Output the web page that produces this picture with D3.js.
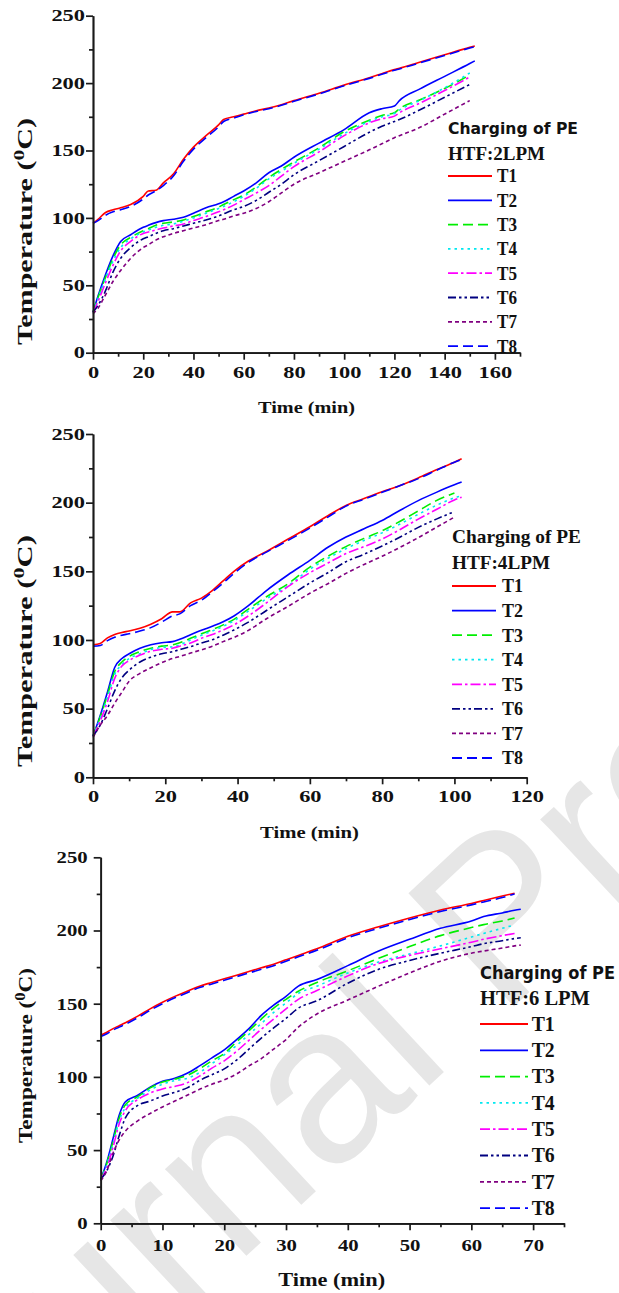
<!DOCTYPE html>
<html><head><meta charset="utf-8">
<script src="https://cdn.jsdelivr.net/npm/d3@7"></script>
<style>body{margin:0;background:#fff}svg{display:block}</style>
</head><body>
<svg id="chart" width="619" height="1293"></svg>
<script>
// ---------------- DATA ----------------
const seriesNames = ["T1","T2","T3","T4","T5","T6","T7","T8"];

// Panel 1 : HTF 2 LPM
const time2LPM = [0,2,5,8,11,15,20,22,25,28,32,36,40,45,50,52,56,60,65,70,75,80,90,100,110,115,120,122,130,140,150,152];
const T1_2LPM = [96,99,104,106,107.5,110,116,120,120.5,126,132.5,143.5,152.5,161,169,173,175,177,179.5,181.5,184,187,192.5,198.5,204,207,210,211,215.5,221,226.5,227.5];
const T2_2LPM = [30,42,58,72,82.5,87.5,93,94.5,96.5,98,99,100.5,103.5,107.5,110.5,112,116,120,126,133.5,138.5,145,155.5,165.5,178,181,183,187,195.5,205,214.5,216.5];
const T3_2LPM = [30,41,56,70,80,85.5,90.5,92,94.5,96,97,98.5,101,104.5,108,110,113.5,117,123,130,136,141.5,152,164,172.5,176,178,181,187.5,196,206,null];
const T4_2LPM = [30,40,55,68,78,84.5,89.5,91,93,94.5,95.5,97.5,100,103.5,107,108.5,112,116,122,129,134.5,140.5,151,162.5,171.5,175,177.5,180,187,196.5,207.5,null];
const T5_2LPM = [30,38,52,65,75.5,82.5,88.5,89.5,91,92.5,94,95.5,98,101,104.5,106,109.5,113.5,118.5,124,131,138,149,161,170.5,173.5,175.5,178,185,194.5,204.5,null];
const T6_2LPM = [30,35,46,60,70,78,84.5,86,88.5,90.5,92,94,96,98.5,101.5,103,106,108.5,113,119,125,132,142.5,153,163.5,168,171.5,173,180,189.5,199,null];
const T7_2LPM = [29,33,43,53,61,70,78,80,83.5,86,88.5,90.5,92.5,95,98,99,101.5,103.5,107,112,118.5,125,133.5,142,150.5,155,159.5,161,167,177,187,null];
const T8_2LPM = [96,98,102,104.5,106,108.5,114,117,120,124,131,142,151,159.5,167.5,171.5,174,176.5,179,181,183.5,186.5,192,198,203.5,206.5,209.5,210.5,215,220.5,226,227];

// Panel 2 : HTF 4 LPM
const time4LPM = [0,2,4,6,8,10,13,16,19,22,24,27,30,33,36,39,43,48,54,60,65,70,75,80,85,90,95,100,102];
const T1_4LPM = [96.5,97.5,101.5,104,105.5,106.5,108.5,111.5,115.5,120.5,120.5,127,130.5,136,143,150,157.5,164.5,173.5,182.5,190.5,198,203,208,212.5,218,224,229.5,232];
const T2_4LPM = [30,45,62,80,86.5,90,94,96.5,98,98.8,100.5,103.8,107,110,113.3,117.5,125,136,147.5,158,167.5,175,181,187,194.5,201.5,207.5,213,215];
const T3_4LPM = [30,44,60,77,84,88,91.5,94,95.5,96.4,98,101.2,104.5,107.5,111,115,122.5,131.5,141,153,161,168,174,179.5,186.5,194,201.5,207,null];
const T4_4LPM = [30,43,58,75,82,86.5,90,93,94.5,95,96.5,100,103.5,106.5,110,114,121,130,139.5,151.5,159.5,166.5,172.5,178,184.5,191.5,198,203.5,205];
const T5_4LPM = [30,41,55,72,81,85,89,91.8,93.2,94,95.5,97.8,101.2,104,107.3,111,117.5,127,139,149,156,163,168,173.5,180.5,188,195,202,204];
const T6_4LPM = [30,38,50,63,72.5,78,84,87.5,90,91.5,93,95.2,97.8,100.2,103.5,107.3,113,121.5,131.5,141.5,149,157,162.5,168.5,175,182,188,193.5,null];
const T7_4LPM = [29,38,45,54,62,70,75.7,79.8,83.5,86.5,88,90.5,92.8,95.5,98.8,101.8,107,115.5,124.5,134,141,148.5,155,161,167.5,174.5,182,189.5,null];
const T8_4LPM = [95.5,96,99.5,102,103.5,104.5,106.5,109,113,117.5,119,125,129,135,141.5,148.5,156.5,164,172.5,181.5,189.5,197.5,202.5,207.5,212.5,217.5,223.5,229.5,231.5];

// Panel 3 : HTF 6 LPM
const time6LPM = [0,1,2,3,4,6,8,10,12,14,16,18,20,22,24,26,28,30,32,35,40,45,50,55,60,62,65,67,68];
const T1_6LPM = [128.5,130.5,133,135,137,141.5,146.5,151,155,158.5,162,164.5,167,169.5,172,174.5,177,180,183,187.5,196,202.5,208.5,214,218.5,220.5,223.5,225.5,null];
const T2_6LPM = [30,42,58,74,83,87.5,93,97,99,102.5,107.5,113,118.5,125.5,133,142,149,155,162,166.5,176,186,194,201.5,206.5,209.5,212,213.8,214.5];
const T3_6LPM = [30,41,56,72,81,86.5,92.5,96.5,98.5,101,105.5,111,116,124,131.5,139.5,147,153,158.5,164.5,172.5,181,189,196.5,202,204,206.5,208.5,null];
const T4_6LPM = [30,40,54,70,79,85.5,91,95,97.5,99,103,109,115,121.5,129,136.5,144,150.5,157,162,171,178.5,184,189.5,195.5,198,201.5,203.8,null];
const T5_6LPM = [30,38,52,68,77,84.5,89,91.8,93.5,96,100.5,106,111,117.5,125,132.5,139.5,146.5,153,159,169,177.5,183,187.5,192,194,196.5,198,null];
const T6_6LPM = [30,36,46,60,72,80.5,83.5,87,89.5,92.5,97.5,101.5,105.5,111.5,119,126.5,133.5,140,147,152,164,173.5,179.5,184.5,189,191,193,194.5,195];
const T7_6LPM = [29,36,48,57,63,70,75,79.5,83.5,87.5,91.5,95,98,102,107.5,112.5,119,125.5,134,143,152.5,162,171,179,184.5,186,188,189.5,190];
const T8_6LPM = [127.5,129.5,132,134,136,140.5,145.5,150,154,157.5,161,163.5,166,168.5,171,173.5,176,179,182,186.5,195,201.5,207.5,213,217.5,219.5,222.5,225,null];

const headings = ["HTF:2LPM","HTF:4LPM","HTF:6 LPM"];
const xTickValues = [[0,20,40,60,80,100,120,140,160],[0,20,40,60,80,100,120],[0,10,20,30,40,50,60,70]];
const yTickValues = [0,50,100,150,200,250];

// ---------------- STYLE ----------------
const colors = ["#ff0000","#0000ff","#00ee00","#00e8f0","#ff00ff","#000080","#800080","#0000ff"];
const dashes = [null,null,"10,5","2.5,4","10,3,2.5,3","8,3,2.5,3,2.5,3","4,3","10,5"];
const SERIF = "'Liberation Serif','Times New Roman',serif";
const SANS = "'DejaVu Sans',Verdana,sans-serif";

const panels = [
  {time:time2LPM, data:[T1_2LPM,T2_2LPM,T3_2LPM,T4_2LPM,T5_2LPM,T6_2LPM,T7_2LPM,T8_2LPM], heading:headings[0],
   xMax:170, xTicks:xTickValues[0], xMinorStep:10, left:93, right:520, top:15.7, bottom:352.7,
   tickFont:16, tickStretch:1.4, yPad:1, xPad:6.5,
   yTitle:{cy:231.5, len:227, font:21}, xTitle:{cx:306.5, base:413, len:97, font:17.5},
   leg:{x:448, h1:{y:133.5, len:130, font:16, fam:SANS}, h2:{y:159.5, len:97, font:19}, row0:176, step:24.3, lineLen:44, tx:497, tLen:20, tFont:19}},
  {time:time4LPM, data:[T1_4LPM,T2_4LPM,T3_4LPM,T4_4LPM,T5_4LPM,T6_4LPM,T7_4LPM,T8_4LPM], heading:headings[1],
   xMax:120, xTicks:xTickValues[1], xMinorStep:10, left:93, right:526.7, top:434, bottom:777.3,
   tickFont:16, tickStretch:1.4, yPad:1, xPad:6.5,
   yTitle:{cy:651, len:232, font:21}, xTitle:{cx:309.5, base:838, len:99, font:17.5},
   leg:{x:452, h1:{y:543, len:129, font:19, fam:SERIF}, h2:{y:568.5, len:98, font:19}, row0:586, step:24.57, lineLen:44, tx:502, tLen:21, tFont:19}},
  {time:time6LPM, data:[T1_6LPM,T2_6LPM,T3_6LPM,T4_6LPM,T5_6LPM,T6_6LPM,T7_6LPM,T8_6LPM], heading:headings[2],
   xMax:75, xTicks:xTickValues[2], xMinorStep:5, left:100.7, right:564, top:857.3, bottom:1223.3,
   tickFont:17, tickStretch:1.22, yPad:6, xPad:8.5,
   yTitle:{cy:1055.5, len:175, font:19}, xTitle:{cx:331.7, base:1286, len:107, font:18.5},
   leg:{x:480, h1:{y:978.5, len:135, font:17, fam:SANS}, h2:{y:1004.5, len:110, font:20}, row0:1024, step:26.3, lineLen:48, tx:531.7, tLen:23, tFont:20}}
];

// ---------------- DRAW ----------------
const svg = d3.select("#chart");
svg.append("rect").attr("width",619).attr("height",1293).attr("fill","#fff");

// watermark
svg.append("text")
  .attr("transform","translate(-85,1565) rotate(-43)")
  .attr("font-family","'Liberation Sans',Arial,sans-serif")
  .attr("font-size",225)
  .attr("fill","#e6e6e6")
  .text("Journal Pre-proof");

function stretch(sel, f){
  sel.each(function(){
    const l = this.getComputedTextLength();
    this.setAttribute("textLength", (l*f).toFixed(2));
    this.setAttribute("lengthAdjust","spacingAndGlyphs");
  });
}
function fit(sel, w){
  sel.attr("textLength", w).attr("lengthAdjust","spacingAndGlyphs");
}

panels.forEach(p => {
  const g = svg.append("g");
  const x = d3.scaleLinear().domain([0,p.xMax]).range([p.left,p.right]);
  const y = d3.scaleLinear().domain([0,250]).range([p.bottom,p.top]);

  // lines
  const rows = p.time.map((t,i)=>({t,i}));
  p.data.forEach((vals, k) => {
    const line = d3.line()
      .defined(d => vals[d.i] != null)
      .x(d => x(d.t)).y(d => y(vals[d.i]))
      .curve(d3.curveMonotoneX);
    g.append("path").datum(rows)
      .attr("d", line)
      .attr("fill","none")
      .attr("stroke", colors[k])
      .attr("stroke-width", 1.6)
      .attr("stroke-dasharray", dashes[k])
      .attr("stroke-linejoin","round");
  });

  // minor ticks
  const yMinor = d3.range(25,250,50);
  const xMinor = d3.range(p.xMinorStep, p.xMax+0.001, p.xMinorStep*2);
  const ax = g.append("g").attr("transform",`translate(${p.left},0)`)
    .call(d3.axisLeft(y).tickValues(yMinor).tickSize(4).tickSizeOuter(0).tickFormat(""));
  const bx = g.append("g").attr("transform",`translate(0,${p.bottom})`)
    .call(d3.axisBottom(x).tickValues(xMinor).tickSize(4).tickSizeOuter(0).tickFormat(""));
  // major ticks
  const yAxis = g.append("g").attr("transform",`translate(${p.left},0)`)
    .call(d3.axisLeft(y).tickValues(yTickValues).tickSize(7).tickSizeOuter(0).tickPadding(p.yPad));
  const xAxis = g.append("g").attr("transform",`translate(0,${p.bottom})`)
    .call(d3.axisBottom(x).tickValues(p.xTicks).tickSize(7).tickSizeOuter(0).tickPadding(p.xPad));
  [ax,bx,yAxis,xAxis].forEach(a => {
    a.selectAll("path,line").attr("stroke","#1a1a1a").attr("stroke-width",1.7);
    a.selectAll("text").attr("font-family",SERIF).attr("font-weight","bold")
      .attr("font-size",p.tickFont).attr("fill","#111");
  });
  stretch(yAxis.selectAll("text"), p.tickStretch);
  stretch(xAxis.selectAll("text"), p.tickStretch);

  // axis titles
  const xt = g.append("text").attr("x",p.xTitle.cx).attr("y",p.xTitle.base)
    .attr("text-anchor","middle").attr("font-family",SERIF).attr("font-weight","bold")
    .attr("font-size",p.xTitle.font).attr("fill","#111").text("Time (min)");
  fit(xt, p.xTitle.len);

  const yt = g.append("text")
    .attr("transform",`translate(32,${p.yTitle.cy}) rotate(-90)`)
    .attr("text-anchor","middle").attr("font-family",SERIF).attr("font-weight","bold")
    .attr("font-size",p.yTitle.font).attr("fill","#111");
  yt.append("tspan").text("Temperature (");
  yt.append("tspan").attr("dy",-p.yTitle.font*0.38).attr("font-size",p.yTitle.font*0.72).text("0");
  yt.append("tspan").attr("dy",p.yTitle.font*0.38).text("C)");
  fit(yt, p.yTitle.len);

  // legend
  const L = p.leg;
  fit(g.append("text").attr("x",L.x).attr("y",L.h1.y).attr("font-family",L.h1.fam)
    .attr("font-weight","bold").attr("font-size",L.h1.font).attr("fill","#111")
    .text("Charging of PE"), L.h1.len);
  fit(g.append("text").attr("x",L.x).attr("y",L.h2.y).attr("font-family",SERIF)
    .attr("font-weight","bold").attr("font-size",L.h2.font).attr("fill","#111")
    .text(p.heading), L.h2.len);
  seriesNames.forEach((name,k) => {
    const yy = L.row0 + k*L.step;
    g.append("line").attr("x1",L.x).attr("x2",L.x+L.lineLen).attr("y1",yy).attr("y2",yy)
      .attr("stroke",colors[k]).attr("stroke-width",1.8).attr("stroke-dasharray",dashes[k]);
    fit(g.append("text").attr("x",L.tx).attr("y",yy+L.tFont*0.34)
      .attr("font-family",SERIF).attr("font-weight","bold").attr("font-size",L.tFont)
      .attr("fill","#111").text(name), L.tLen);
  });
});
</script>
</body></html>
